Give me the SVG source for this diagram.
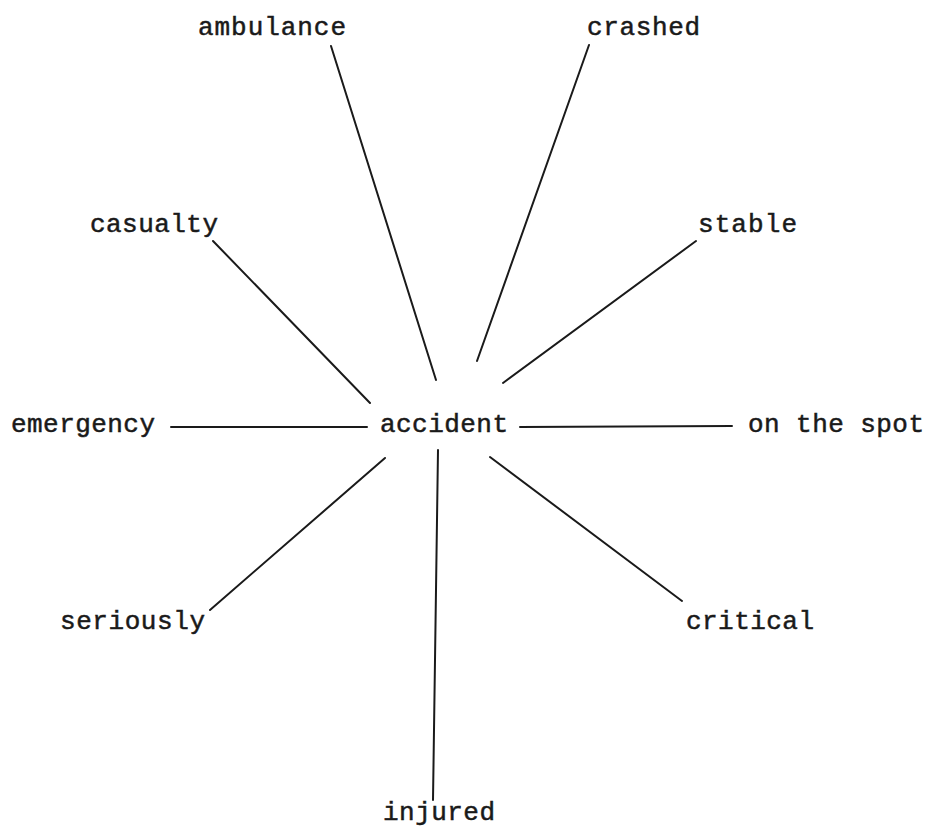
<svg xmlns="http://www.w3.org/2000/svg" width="926" height="828" viewBox="0 0 926 828">
<style>
text{font-family:"Liberation Mono","DejaVu Sans Mono",monospace;font-size:26px;fill:#1a1a1a;stroke:#1a1a1a;stroke-width:0.5;}
.c line{stroke:#1a1a1a;stroke-width:2;stroke-linecap:round;}
</style>
<rect width="926" height="828" fill="#ffffff"/>
<g class="c" id="connectors">
<line x1="331" y1="46" x2="436" y2="380"/>
<line x1="589" y1="45" x2="477" y2="361"/>
<line x1="213" y1="241" x2="370" y2="403"/>
<line x1="696" y1="241" x2="503" y2="383"/>
<line x1="171" y1="427" x2="367" y2="427"/>
<line x1="520" y1="427" x2="732" y2="426"/>
<line x1="385" y1="458" x2="210" y2="610"/>
<line x1="438" y1="450" x2="433" y2="800"/>
<line x1="490" y1="457" x2="682" y2="601"/>
</g>
<g id="node-accident"><text x="380" y="432" textLength="128" lengthAdjust="spacing">accident</text></g>
<g id="node-ambulance"><text x="198" y="35" textLength="148" lengthAdjust="spacing">ambulance</text></g>
<g id="node-crashed"><text x="587" y="35" textLength="113" lengthAdjust="spacing">crashed</text></g>
<g id="node-casualty"><text x="90" y="232" textLength="128" lengthAdjust="spacing">casualty</text></g>
<g id="node-stable"><text x="698" y="232" textLength="99" lengthAdjust="spacing">stable</text></g>
<g id="node-emergency"><text x="11" y="432" textLength="144" lengthAdjust="spacing">emergency</text></g>
<g id="node-on-the-spot"><text x="748" y="432" textLength="176" lengthAdjust="spacing">on the spot</text></g>
<g id="node-seriously"><text x="60" y="629" textLength="145" lengthAdjust="spacing">seriously</text></g>
<g id="node-critical"><text x="686" y="629" textLength="128" lengthAdjust="spacing">critical</text></g>
<g id="node-injured"><text x="383" y="820" textLength="112" lengthAdjust="spacing">injured</text></g>
</svg>
